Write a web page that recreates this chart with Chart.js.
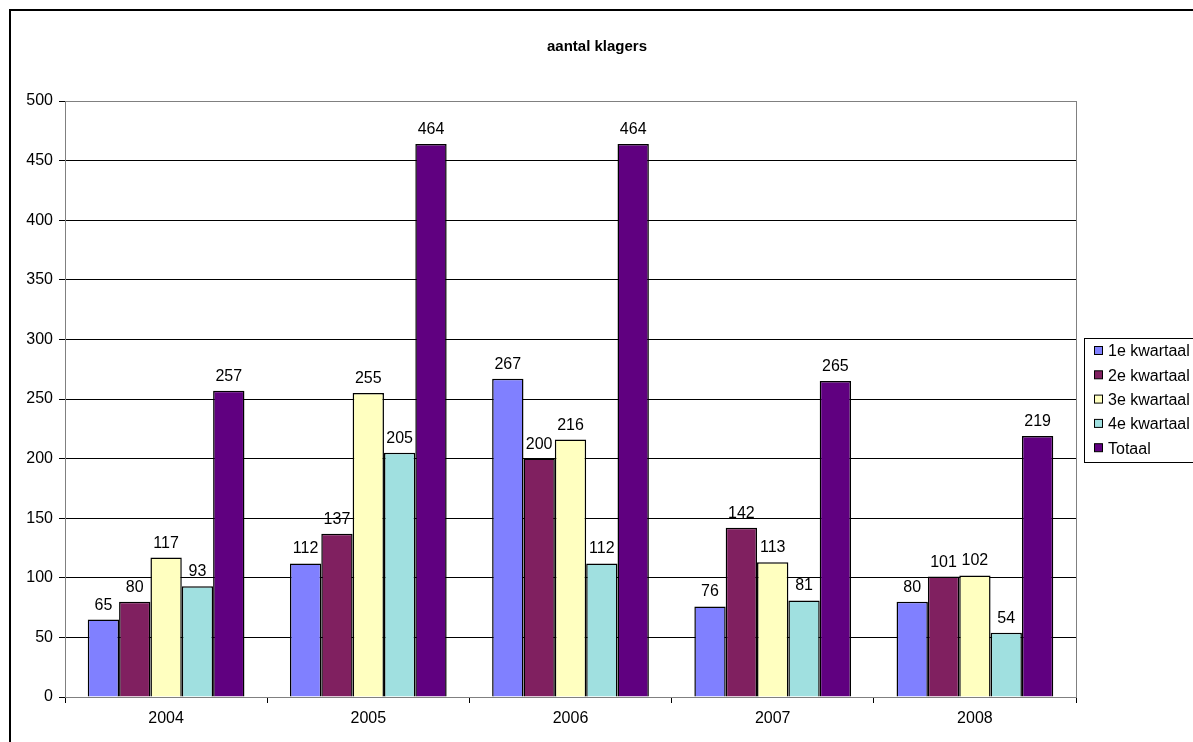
<!DOCTYPE html>
<html>
<head>
<meta charset="utf-8">
<script src="https://cdn.jsdelivr.net/npm/chart.js@4.4.0/dist/chart.umd.min.js"></script>
<style>
  html, body { margin: 0; padding: 0; background: #fff; }
  #wrap { width: 1193px; height: 742px; position: relative; }
</style>
</head>
<body>
<div id="wrap"><canvas id="chart" width="1193" height="742"></canvas></div>
<script>
(function () {
  "use strict";

  const years = ["2004", "2005", "2006", "2007", "2008"];
  const seriesNames = ["1e kwartaal", "2e kwartaal", "3e kwartaal", "4e kwartaal", "Totaal"];
  const q1 = [65, 112, 267, 76, 80];
  const q2 = [80, 137, 200, 142, 101];
  const q3 = [117, 255, 216, 113, 102];
  const q4 = [93, 205, 112, 81, 54];
  const totaal = [257, 464, 464, 265, 219];
  const colors = ["#8080ff", "#802060", "#ffffc0", "#a0e0e0", "#600080"];
  const FONT = "Arial, 'Liberation Sans', sans-serif";

  const allValues = [q1, q2, q3, q4, totaal];

  const extras = {
    id: "extras",
    beforeDatasetsDraw(chart) {
      const ctx = chart.ctx;
      const a = chart.chartArea;
      ctx.save();
      ctx.strokeStyle = "#808080";
      ctx.lineWidth = 1;
      ctx.strokeRect(a.left + 0.5, a.top + 0.5, a.right - a.left, a.bottom - a.top);
      ctx.restore();
    },
    afterDraw(chart) {
      const ctx = chart.ctx;
      ctx.save();
      // outer frame
      ctx.strokeStyle = "#000";
      ctx.lineWidth = 2;
      ctx.strokeRect(10, 10, 1400, 1000);
      // title
      ctx.fillStyle = "#000";
      ctx.font = "bold 15px " + FONT;
      ctx.textAlign = "center";
      ctx.textBaseline = "middle";
      ctx.fillText("aantal klagers", 597, 47);
      // value labels
      ctx.font = "16px " + FONT;
      ctx.textBaseline = "alphabetic";
      chart.data.datasets.forEach((ds, i) => {
        chart.getDatasetMeta(i).data.forEach((bar, j) => {
          ctx.fillText(String(ds.data[j]), bar.x, bar.y - 10);
        });
      });
      // legend
      ctx.strokeStyle = "#000";
      ctx.lineWidth = 1;
      ctx.fillStyle = "#fff";
      ctx.fillRect(1084.5, 338.5, 200, 124);
      ctx.strokeRect(1084.5, 338.5, 200, 124);
      ctx.textAlign = "left";
      ctx.textBaseline = "middle";
      chart.data.datasets.forEach((ds, i) => {
        const y = 351 + i * 24.3;
        ctx.fillStyle = ds.backgroundColor;
        ctx.fillRect(1094.5, y - 4.5, 8, 8);
        ctx.strokeStyle = "#000";
        ctx.strokeRect(1094.5, y - 4.5, 8, 8);
        ctx.fillStyle = "#000";
        ctx.fillText(ds.label, 1108, y + 1);
      });
      ctx.restore();
    }
  };

  const datasets = seriesNames.map((name, i) => ({
    label: name,
    data: allValues[i],
    backgroundColor: colors[i],
    borderColor: "#000",
    borderWidth: 1.5,
    borderSkipped: "bottom",
    barPercentage: 1,
    categoryPercentage: 0.775
  }));

  new Chart(document.getElementById("chart"), {
    type: "bar",
    data: { labels: years, datasets: datasets },
    options: {
      responsive: false,
      animation: false,
      layout: { padding: { left: 10, top: 101, right: 117, bottom: 0 } },
      plugins: { legend: { display: false }, tooltip: { enabled: false } },
      scales: {
        x: {
          offset: true,
          grid: { offset: true, drawOnChartArea: false, drawTicks: true, tickLength: 6, color: "#000" },
          border: { color: "#000", width: 1 },
          ticks: { color: "#000", font: { family: FONT, size: 16 }, padding: 6 },
          afterFit(scale) { scale.height = 45; }
        },
        y: {
          min: 0,
          max: 500,
          ticks: { stepSize: 50, color: "#000", font: { family: FONT, size: 16 }, padding: 6 },
          grid: { color: "#000", lineWidth: 1, tickLength: 6 },
          border: { color: "#000", width: 1 },
          afterFit(scale) { scale.width = 55; }
        }
      }
    },
    plugins: [extras]
  });
})();
</script>
</body>
</html>
